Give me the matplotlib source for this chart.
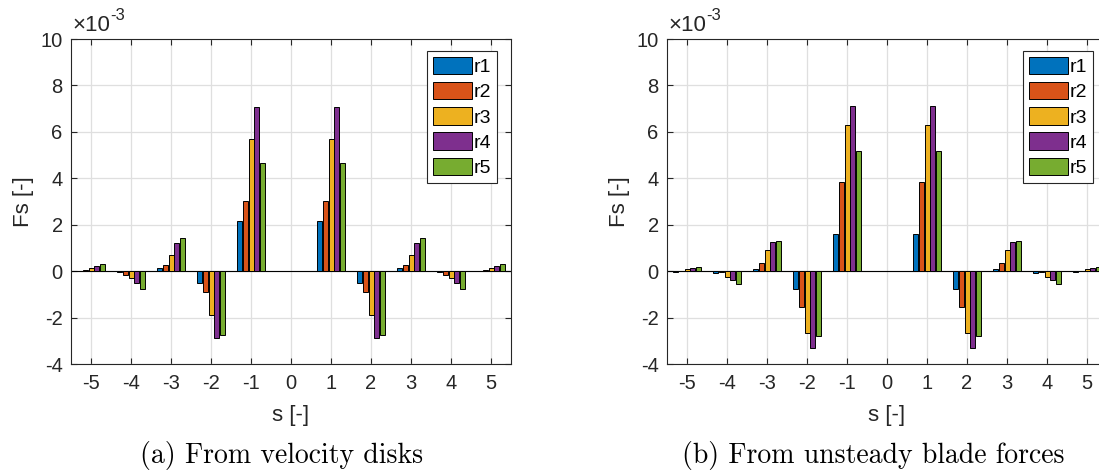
import numpy as np
import matplotlib
matplotlib.use('Agg')
import matplotlib.pyplot as plt

# Data (Fs values in units of 1e-3)
s_values = [-5, -4, -3, -2, -1, 0, 1, 2, 3, 4, 5]
series_names = ['r1', 'r2', 'r3', 'r4', 'r5']

# (a) From velocity disks
disks_r1 = [0.01, -0.02, 0.14, -0.52, 2.17, 0.0, 2.17, -0.52, 0.14, -0.02, 0.01]
disks_r2 = [0.05, -0.16, 0.28, -0.91, 3.03, 0.0, 3.03, -0.91, 0.28, -0.16, 0.05]
disks_r3 = [0.13, -0.30, 0.69, -1.91, 5.69, 0.0, 5.69, -1.91, 0.69, -0.30, 0.13]
disks_r4 = [0.24, -0.53, 1.20, -2.90, 7.07, 0.0, 7.07, -2.90, 1.20, -0.53, 0.24]
disks_r5 = [0.30, -0.76, 1.41, -2.77, 4.68, 0.0, 4.68, -2.77, 1.41, -0.76, 0.30]

# (b) From unsteady blade forces
blade_r1 = [-0.03, -0.10, 0.10, -0.79, 1.58, 0.0, 1.58, -0.79, 0.10, -0.10, -0.03]
blade_r2 = [0.01, -0.05, 0.34, -1.54, 3.84, 0.0, 3.84, -1.54, 0.34, -0.05, 0.01]
blade_r3 = [0.09, -0.25, 0.89, -2.67, 6.28, 0.0, 6.28, -2.67, 0.89, -0.25, 0.09]
blade_r4 = [0.14, -0.40, 1.25, -3.32, 7.11, 0.0, 7.11, -3.32, 1.25, -0.40, 0.14]
blade_r5 = [0.20, -0.57, 1.29, -2.79, 5.19, 0.0, 5.19, -2.79, 1.29, -0.57, 0.20]

captions = ['(a) From velocity disks', '(b) From unsteady blade forces']

colors = ['#0072BD', '#D95319', '#EDB120', '#7E2F8E', '#77AC30']
axis_color = '#262626'

plt.rcParams['font.family'] = ['Liberation Sans', 'DejaVu Sans']
plt.rcParams['axes.unicode_minus'] = False


def draw_panel(ax, series):
    x = np.array(s_values, dtype=float)
    pitch = 0.148
    for i, vals in enumerate(series):
        offset = (i - 2) * pitch
        ax.bar(x + offset, vals, width=0.125, color=colors[i],
               edgecolor='black', linewidth=0.7, label=series_names[i], zorder=2)

    ax.set_xlim(-5.5, 5.5)
    ax.set_ylim(-4, 10)
    ax.set_xticks(s_values)
    ax.set_yticks([-4, -2, 0, 2, 4, 6, 8, 10])
    ax.set_axisbelow(True)
    ax.grid(True, color='#dfdfdf', linewidth=0.9)
    ax.axhline(0, color='black', linewidth=0.8, zorder=1.5)

    for sp in ax.spines.values():
        sp.set_color(axis_color)
        sp.set_linewidth(0.8)
    ax.tick_params(direction='in', length=4, width=0.8, colors=axis_color,
                   labelsize=14.5, top=True, right=True)
    ax.tick_params(axis='x', pad=7)
    ax.tick_params(axis='y', pad=6)

    ax.set_xlabel('s [-]', fontsize=16, color=axis_color)
    ax.set_ylabel('Fs [-]', fontsize=16, color=axis_color)
    ax.xaxis.set_label_coords(0.5, -0.125)
    ax.yaxis.set_label_coords(-0.085, 0.5)

    t = ax.text(0.004, 1.01, '\u00d710', transform=ax.transAxes, fontsize=16,
                color=axis_color, ha='left', va='bottom')
    ax.annotate('-3', xy=(1.0, 0.6), xycoords=t, fontsize=12,
                color=axis_color, ha='left', va='bottom')

    leg = ax.legend(loc='upper right', bbox_to_anchor=(0.968, 0.963),
                    fontsize=14, handlelength=2.0, handleheight=1.0,
                    labelspacing=0.3, handletextpad=0.1, borderpad=0.3,
                    borderaxespad=0.0, fancybox=False, framealpha=1.0)
    leg.get_frame().set_edgecolor(axis_color)
    leg.get_frame().set_linewidth(0.8)


fig = plt.figure(figsize=(10.99, 4.72), dpi=100)
ax1 = fig.add_axes([71 / 1099, 1 - 364 / 472, 440 / 1099, 325 / 472])
ax2 = fig.add_axes([667 / 1099, 1 - 364 / 472, 440 / 1099, 325 / 472])

draw_panel(ax1, [disks_r1, disks_r2, disks_r3, disks_r4, disks_r5])
draw_panel(ax2, [blade_r1, blade_r2, blade_r3, blade_r4, blade_r5])

fig.text(282 / 1099, 1 - 456 / 472, captions[0], family='cmr10', fontsize=20,
         ha='center', va='center')
fig.text(873 / 1099, 1 - 456 / 472, captions[1], family='cmr10', fontsize=20,
         ha='center', va='center')

fig.savefig('out.png', dpi=100)
